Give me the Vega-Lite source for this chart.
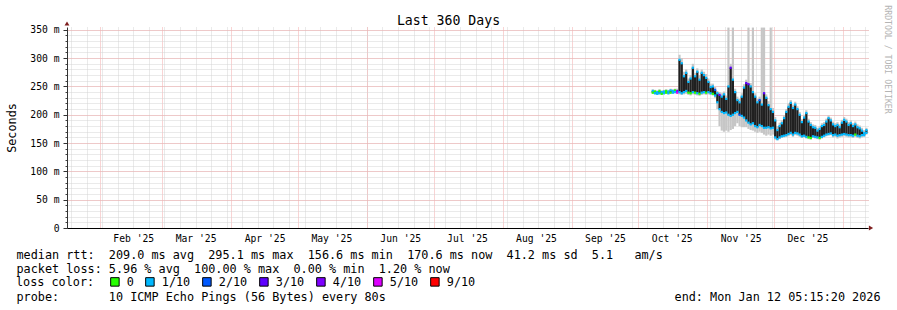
{
  "$schema": "https://vega.github.io/schema/vega-lite/v6.json",
  "width": 801,
  "height": 201,
  "autosize": {"type": "none"},
  "padding": {"left": 67, "top": 27, "right": 29, "bottom": 82},
  "background": "#ffffff",
  "config": {
    "view": {"stroke": null},
    "axis": {"labelFont": "DejaVu Sans Mono", "titleFont": "DejaVu Sans Mono", "titleFontWeight": "normal", "labelColor": "#000000", "titleColor": "#000000", "titleLimit": 2000, "labelLimit": 300}
  },
  "data": {"values": [
    {"t":"2025-10-07T12:00","smin":237,"lo":239,"hi":242,"smax":245,"loss":"1/10","lossLo":"0"},
    {"t":"2025-10-08T12:00","smin":236,"lo":238,"hi":241,"smax":244,"loss":"0","lossLo":"1/10"},
    {"t":"2025-10-09T12:00","smin":235,"lo":237,"hi":240,"smax":243,"loss":"1/10","lossLo":"1/10"},
    {"t":"2025-10-10T12:00","smin":236,"lo":238,"hi":242,"smax":245,"loss":"0","lossLo":"1/10"},
    {"t":"2025-10-11T12:00","smin":235,"lo":237,"hi":240,"smax":243,"loss":"1/10","lossLo":"0"},
    {"t":"2025-10-12T12:00","smin":236,"lo":238,"hi":241,"smax":244,"loss":"1/10","lossLo":"1/10"},
    {"t":"2025-10-13T12:00","smin":237,"lo":239,"hi":242,"smax":245,"loss":"0","lossLo":"0"},
    {"t":"2025-10-14T12:00","smin":236,"lo":238,"hi":241,"smax":244,"loss":"1/10","lossLo":"1/10"},
    {"t":"2025-10-15T12:00","smin":237,"lo":239,"hi":243,"smax":246,"loss":"1/10","lossLo":"0"},
    {"t":"2025-10-16T12:00","smin":237,"lo":239,"hi":242,"smax":245,"loss":"1/10","lossLo":"1/10"},
    {"t":"2025-10-17T12:00","smin":238,"lo":240,"hi":243,"smax":246,"loss":"0","lossLo":"1/10"},
    {"t":"2025-10-18T12:00","smin":237,"lo":239,"hi":242,"smax":246,"loss":"4/10","lossLo":"5/10"},
    {"t":"2025-10-19T12:00","smin":236,"lo":240,"hi":297,"smax":306,"loss":"1/10","lossLo":"1/10"},
    {"t":"2025-10-20T12:00","smin":235,"lo":238,"hi":291,"smax":300,"loss":"1/10","lossLo":"1/10"},
    {"t":"2025-10-21T12:00","smin":236,"lo":240,"hi":268,"smax":276,"loss":"1/10","lossLo":"1/10"},
    {"t":"2025-10-22T12:00","smin":237,"lo":242,"hi":274,"smax":280,"loss":"1/10","lossLo":"1/10"},
    {"t":"2025-10-23T12:00","smin":235,"lo":239,"hi":258,"smax":264,"loss":"1/10","lossLo":"0"},
    {"t":"2025-10-24T12:00","smin":234,"lo":238,"hi":264,"smax":270,"loss":"1/10","lossLo":"0"},
    {"t":"2025-10-25T12:00","smin":236,"lo":240,"hi":283,"smax":290,"loss":"1/10","lossLo":"1/10"},
    {"t":"2025-10-26T12:00","smin":235,"lo":239,"hi":268,"smax":274,"loss":"1/10","lossLo":"0"},
    {"t":"2025-10-27T12:00","smin":234,"lo":238,"hi":276,"smax":282,"loss":"1/10","lossLo":"1/10"},
    {"t":"2025-10-28T12:00","smin":233,"lo":237,"hi":262,"smax":270,"loss":"1/10","lossLo":"0"},
    {"t":"2025-10-29T12:00","smin":235,"lo":239,"hi":274,"smax":280,"loss":"1/10","lossLo":"1/10"},
    {"t":"2025-10-30T12:00","smin":236,"lo":240,"hi":270,"smax":276,"loss":"1/10","lossLo":"1/10"},
    {"t":"2025-10-31T12:00","smin":235,"lo":239,"hi":265,"smax":272,"loss":"1/10","lossLo":"0"},
    {"t":"2025-11-01T12:00","smin":236,"lo":240,"hi":258,"smax":264,"loss":"1/10","lossLo":"1/10"},
    {"t":"2025-11-02T12:00","smin":235,"lo":238,"hi":249,"smax":255,"loss":"1/10","lossLo":"1/10"},
    {"t":"2025-11-03T12:00","smin":234,"lo":237,"hi":250,"smax":255,"loss":"1/10","lossLo":"0"},
    {"t":"2025-11-04T12:00","smin":230,"lo":234,"hi":244,"smax":249,"loss":"2/10","lossLo":"1/10"},
    {"t":"2025-11-05T12:00","smin":210,"lo":222,"hi":238,"smax":242,"loss":"1/10","lossLo":"1/10"},
    {"t":"2025-11-06T12:00","smin":180,"lo":210,"hi":235,"smax":240,"loss":"3/10","lossLo":"1/10"},
    {"t":"2025-11-07T12:00","smin":172,"lo":205,"hi":232,"smax":238,"loss":"1/10","lossLo":"1/10"},
    {"t":"2025-11-08T12:00","smin":170,"lo":203,"hi":236,"smax":241,"loss":"1/10","lossLo":"1/10"},
    {"t":"2025-11-09T12:00","smin":172,"lo":204,"hi":228,"smax":234,"loss":"1/10","lossLo":"1/10"},
    {"t":"2025-11-10T12:00","smin":170,"lo":200,"hi":250,"smax":354,"loss":"1/10","lossLo":"1/10"},
    {"t":"2025-11-11T12:00","smin":173,"lo":198,"hi":283,"smax":290,"loss":"3/10","lossLo":"1/10"},
    {"t":"2025-11-12T12:00","smin":175,"lo":200,"hi":262,"smax":354,"loss":"1/10","lossLo":"1/10"},
    {"t":"2025-11-13T12:00","smin":180,"lo":203,"hi":240,"smax":246,"loss":"1/10","lossLo":"1/10"},
    {"t":"2025-11-14T12:00","smin":185,"lo":205,"hi":226,"smax":232,"loss":"1/10","lossLo":"1/10"},
    {"t":"2025-11-15T12:00","smin":180,"lo":200,"hi":222,"smax":228,"loss":"1/10","lossLo":"2/10"},
    {"t":"2025-11-16T12:00","smin":178,"lo":198,"hi":232,"smax":238,"loss":"1/10","lossLo":"1/10"},
    {"t":"2025-11-17T12:00","smin":178,"lo":195,"hi":248,"smax":254,"loss":"1/10","lossLo":"1/10"},
    {"t":"2025-11-18T12:00","smin":178,"lo":190,"hi":256,"smax":262,"loss":"3/10","lossLo":"1/10"},
    {"t":"2025-11-19T12:00","smin":175,"lo":186,"hi":254,"smax":354,"loss":"3/10","lossLo":"1/10"},
    {"t":"2025-11-20T12:00","smin":173,"lo":183,"hi":250,"smax":256,"loss":"1/10","lossLo":"1/10"},
    {"t":"2025-11-21T12:00","smin":172,"lo":185,"hi":240,"smax":354,"loss":"1/10","lossLo":"1/10"},
    {"t":"2025-11-22T12:00","smin":170,"lo":180,"hi":232,"smax":238,"loss":"1/10","lossLo":"1/10"},
    {"t":"2025-11-23T12:00","smin":168,"lo":178,"hi":222,"smax":228,"loss":"1/10","lossLo":"1/10"},
    {"t":"2025-11-24T12:00","smin":170,"lo":182,"hi":226,"smax":232,"loss":"2/10","lossLo":"1/10"},
    {"t":"2025-11-25T12:00","smin":168,"lo":180,"hi":218,"smax":354,"loss":"1/10","lossLo":"1/10"},
    {"t":"2025-11-26T12:00","smin":165,"lo":177,"hi":238,"smax":354,"loss":"3/10","lossLo":"1/10"},
    {"t":"2025-11-27T12:00","smin":163,"lo":177,"hi":230,"smax":236,"loss":"1/10","lossLo":"1/10"},
    {"t":"2025-11-28T12:00","smin":165,"lo":178,"hi":217,"smax":224,"loss":"1/10","lossLo":"1/10"},
    {"t":"2025-11-29T12:00","smin":163,"lo":176,"hi":210,"smax":354,"loss":"1/10","lossLo":"1/10"},
    {"t":"2025-11-30T12:00","smin":165,"lo":177,"hi":205,"smax":212,"loss":"1/10","lossLo":"1/10"},
    {"t":"2025-12-01T12:00","smin":156,"lo":160,"hi":190,"smax":196,"loss":"1/10","lossLo":"1/10"},
    {"t":"2025-12-02T12:00","smin":155,"lo":157,"hi":173,"smax":180,"loss":"1/10","lossLo":"1/10"},
    {"t":"2025-12-03T12:00","smin":157,"lo":160,"hi":180,"smax":186,"loss":"1/10","lossLo":"1/10"},
    {"t":"2025-12-04T12:00","smin":159,"lo":162,"hi":185,"smax":190,"loss":"1/10","lossLo":"1/10"},
    {"t":"2025-12-05T12:00","smin":160,"lo":163,"hi":194,"smax":199,"loss":"1/10","lossLo":"1/10"},
    {"t":"2025-12-06T12:00","smin":161,"lo":164,"hi":205,"smax":210,"loss":"1/10","lossLo":"1/10"},
    {"t":"2025-12-07T12:00","smin":162,"lo":166,"hi":214,"smax":220,"loss":"1/10","lossLo":"1/10"},
    {"t":"2025-12-08T12:00","smin":164,"lo":168,"hi":221,"smax":226,"loss":"1/10","lossLo":"1/10"},
    {"t":"2025-12-09T12:00","smin":161,"lo":165,"hi":212,"smax":218,"loss":"1/10","lossLo":"1/10"},
    {"t":"2025-12-10T12:00","smin":164,"lo":168,"hi":218,"smax":223,"loss":"1/10","lossLo":"1/10"},
    {"t":"2025-12-11T12:00","smin":163,"lo":167,"hi":210,"smax":215,"loss":"1/10","lossLo":"1/10"},
    {"t":"2025-12-12T12:00","smin":161,"lo":165,"hi":200,"smax":205,"loss":"1/10","lossLo":"1/10"},
    {"t":"2025-12-13T12:00","smin":159,"lo":162,"hi":187,"smax":192,"loss":"1/10","lossLo":"1/10"},
    {"t":"2025-12-14T12:00","smin":160,"lo":163,"hi":195,"smax":200,"loss":"1/10","lossLo":"1/10"},
    {"t":"2025-12-15T12:00","smin":158,"lo":161,"hi":203,"smax":208,"loss":"1/10","lossLo":"1/10"},
    {"t":"2025-12-16T12:00","smin":157,"lo":160,"hi":188,"smax":193,"loss":"1/10","lossLo":"0"},
    {"t":"2025-12-17T12:00","smin":156,"lo":159,"hi":182,"smax":187,"loss":"1/10","lossLo":"0"},
    {"t":"2025-12-18T12:00","smin":159,"lo":162,"hi":178,"smax":183,"loss":"1/10","lossLo":"1/10"},
    {"t":"2025-12-19T12:00","smin":158,"lo":161,"hi":177,"smax":182,"loss":"1/10","lossLo":"1/10"},
    {"t":"2025-12-20T12:00","smin":157,"lo":160,"hi":172,"smax":177,"loss":"1/10","lossLo":"1/10"},
    {"t":"2025-12-21T12:00","smin":156,"lo":159,"hi":175,"smax":180,"loss":"1/10","lossLo":"0"},
    {"t":"2025-12-22T12:00","smin":158,"lo":161,"hi":180,"smax":185,"loss":"1/10","lossLo":"1/10"},
    {"t":"2025-12-23T12:00","smin":160,"lo":163,"hi":182,"smax":187,"loss":"1/10","lossLo":"1/10"},
    {"t":"2025-12-24T12:00","smin":162,"lo":165,"hi":188,"smax":193,"loss":"1/10","lossLo":"1/10"},
    {"t":"2025-12-25T12:00","smin":163,"lo":166,"hi":194,"smax":199,"loss":"1/10","lossLo":"1/10"},
    {"t":"2025-12-26T12:00","smin":164,"lo":167,"hi":190,"smax":195,"loss":"1/10","lossLo":"1/10"},
    {"t":"2025-12-27T12:00","smin":160,"lo":164,"hi":183,"smax":188,"loss":"1/10","lossLo":"1/10"},
    {"t":"2025-12-28T12:00","smin":161,"lo":165,"hi":180,"smax":185,"loss":"1/10","lossLo":"1/10"},
    {"t":"2025-12-29T12:00","smin":158,"lo":163,"hi":182,"smax":187,"loss":"1/10","lossLo":"1/10"},
    {"t":"2025-12-30T12:00","smin":160,"lo":164,"hi":178,"smax":183,"loss":"1/10","lossLo":"1/10"},
    {"t":"2025-12-31T12:00","smin":161,"lo":165,"hi":186,"smax":191,"loss":"1/10","lossLo":"1/10"},
    {"t":"2026-01-01T12:00","smin":162,"lo":166,"hi":191,"smax":196,"loss":"1/10","lossLo":"1/10"},
    {"t":"2026-01-02T12:00","smin":161,"lo":165,"hi":188,"smax":193,"loss":"1/10","lossLo":"1/10"},
    {"t":"2026-01-03T12:00","smin":160,"lo":164,"hi":182,"smax":187,"loss":"1/10","lossLo":"1/10"},
    {"t":"2026-01-04T12:00","smin":160,"lo":164,"hi":185,"smax":190,"loss":"1/10","lossLo":"1/10"},
    {"t":"2026-01-05T12:00","smin":159,"lo":163,"hi":180,"smax":185,"loss":"1/10","lossLo":"1/10"},
    {"t":"2026-01-06T12:00","smin":161,"lo":165,"hi":183,"smax":188,"loss":"1/10","lossLo":"0"},
    {"t":"2026-01-07T12:00","smin":159,"lo":163,"hi":178,"smax":183,"loss":"1/10","lossLo":"1/10"},
    {"t":"2026-01-08T12:00","smin":158,"lo":162,"hi":176,"smax":181,"loss":"1/10","lossLo":"1/10"},
    {"t":"2026-01-09T12:00","smin":160,"lo":164,"hi":172,"smax":177,"loss":"1/10","lossLo":"1/10"},
    {"t":"2026-01-10T12:00","smin":161,"lo":164,"hi":168,"smax":173,"loss":"1/10","lossLo":"1/10"},
    {"t":"2026-01-11T12:00","smin":165,"lo":168,"hi":173,"smax":177,"loss":"1/10","lossLo":"1/10"}
  ]},
  "resolve": {"axis": {"x": "independent", "y": "independent"}},
  "layer": [
    {
      "mark": {"type": "rule", "strokeWidth": 2.2, "color": "#c6c6c6"},
      "encoding": {
        "x": {"field": "t", "type": "temporal",
          "scale": {"domain": [{"year": 2025, "month": 1, "date": 17, "hours": 5, "minutes": 15, "seconds": 20}, {"year": 2026, "month": 1, "date": 12, "hours": 5, "minutes": 15, "seconds": 20}]},
          "axis": {"orient": "bottom", "tickCount": {"interval": "week", "step": 1}, "grid": true, "gridColor": "#d4d4d4", "gridDash": [1, 1], "gridWidth": 1, "ticks": false, "labels": false, "domain": false,
            "title": "median\u00a0rtt:\u00a0\u00a0209.0\u00a0ms\u00a0avg\u00a0\u00a0295.1\u00a0ms\u00a0max\u00a0\u00a0156.6\u00a0ms\u00a0min\u00a0\u00a0170.6\u00a0ms\u00a0now\u00a0\u00a041.2\u00a0ms\u00a0sd\u00a0\u00a05.1\u00a0\u00a0\u00a0am/s",
            "titleX": -51, "titleY": 30, "titleAlign": "left", "titleBaseline": "alphabetic", "titleAngle": 0, "titleFontSize": 11.8}},
        "y": {"field": "smin", "type": "quantitative", "scale": {"domain": [0, 355], "nice": false, "zero": false},
          "axis": {"orient": "left", "values": [0,10,20,30,40,50,60,70,80,90,100,110,120,130,140,150,160,170,180,190,200,210,220,230,240,250,260,270,280,290,300,310,320,330,340,350], "grid": true, "gridColor": "#d4d4d4", "gridDash": [1, 1], "ticks": true, "tickSize": 2, "tickColor": "#444444", "labels": false, "domain": false, "title": null}},
        "y2": {"field": "smax"}
      }
    },
    {
      "mark": {"type": "rule", "strokeWidth": 2.2, "color": "#202020"},
      "encoding": {
        "x": {"field": "t", "type": "temporal",
          "scale": {"domain": [{"year": 2025, "month": 1, "date": 17, "hours": 5, "minutes": 15, "seconds": 20}, {"year": 2026, "month": 1, "date": 12, "hours": 5, "minutes": 15, "seconds": 20}]},
          "axis": {"orient": "bottom", "tickCount": {"interval": "month", "step": 1}, "grid": true, "gridColor": "#f2a8a8", "gridDash": [1, 1], "gridWidth": 1, "ticks": false, "labels": false, "domain": true, "domainColor": "#000000", "domainWidth": 1,
            "title": "packet\u00a0loss:\u00a05.96\u00a0%\u00a0avg\u00a0\u00a0100.00\u00a0%\u00a0max\u00a0\u00a00.00\u00a0%\u00a0min\u00a0\u00a01.20\u00a0%\u00a0now",
            "titleX": -51, "titleY": 44, "titleAlign": "left", "titleBaseline": "alphabetic", "titleAngle": 0, "titleFontSize": 11.8}},
        "y": {"field": "lo", "type": "quantitative", "scale": {"domain": [0, 355], "nice": false, "zero": false},
          "axis": {"orient": "left", "values": [0, 50, 100, 150, 200, 250, 300, 350], "grid": true, "gridColor": "#f2a8a8", "gridDash": [1, 1], "ticks": true, "tickSize": 4, "tickColor": "#333333", "labels": true, "labelFontSize": 9.7, "labelPadding": 4,
            "labelExpr": "datum.value == 0 ? '0\u00a0\u00a0' : datum.value + '\u00a0m'",
            "domain": true, "domainColor": "#333333", "domainWidth": 1,
            "title": "Seconds", "titleX": -56, "titleY": 100.5, "titleAngle": 270, "titleAlign": "center", "titleBaseline": "middle", "titleFontSize": 11.8}},
        "y2": {"field": "hi"}
      }
    },
    {
      "mark": {"type": "point", "shape": "square", "filled": true, "size": 5, "opacity": 1, "strokeWidth": 0},
      "encoding": {
        "x": {"field": "t", "type": "temporal",
          "scale": {"domain": [{"year": 2025, "month": 1, "date": 17, "hours": 5, "minutes": 15, "seconds": 20}, {"year": 2026, "month": 1, "date": 12, "hours": 5, "minutes": 15, "seconds": 20}]},
          "axis": {"orient": "bottom",
            "values": [{"year": 2025, "month": 2, "date": 16}, {"year": 2025, "month": 3, "date": 16}, {"year": 2025, "month": 4, "date": 16}, {"year": 2025, "month": 5, "date": 16}, {"year": 2025, "month": 6, "date": 16}, {"year": 2025, "month": 7, "date": 16}, {"year": 2025, "month": 8, "date": 16}, {"year": 2025, "month": 9, "date": 16}, {"year": 2025, "month": 10, "date": 16}, {"year": 2025, "month": 11, "date": 16}, {"year": 2025, "month": 12, "date": 16}],
            "format": "%b '%y", "formatType": "time", "grid": false, "ticks": false, "domain": false, "labels": true, "labelFontSize": 9.7, "labelPadding": 5, "labelFlush": false, "labelOverlap": false,
            "title": "probe:\u00a0\u00a0\u00a0\u00a0\u00a0\u00a0\u00a010\u00a0ICMP\u00a0Echo\u00a0Pings\u00a0(56\u00a0Bytes)\u00a0every\u00a080s",
            "titleX": -51, "titleY": 72, "titleAlign": "left", "titleBaseline": "alphabetic", "titleAngle": 0, "titleFontSize": 11.8}},
        "y": {"field": "hi", "type": "quantitative", "scale": {"domain": [0, 355], "nice": false, "zero": false},
          "axis": {"orient": "right", "grid": false, "ticks": false, "labels": false, "domain": false,
            "title": "RRDTOOL\u00a0/\u00a0TOBI\u00a0OETIKER", "titleX": 18, "titleY": 32, "titleAngle": 90, "titleAlign": "center", "titleBaseline": "middle", "titleFontSize": 8.2, "titleColor": "#b4b4b4"}},
        "color": {"field": "loss", "type": "nominal",
          "scale": {"domain": ["0", "1/10", "2/10", "3/10", "4/10", "5/10", "9/10"], "range": ["#26ff00", "#00b8ff", "#0059ff", "#5e00ff", "#7e00ff", "#dd00ff", "#ff0000"]},
          "legend": {"orient": "none", "legendX": -51, "legendY": 249, "direction": "horizontal", "padding": 0,
            "title": "loss\u00a0color:", "titleOrient": "left", "titlePadding": 14, "titleFont": "DejaVu Sans Mono", "titleFontSize": 11.8, "titleFontWeight": "normal", "titleColor": "#000000",
            "labelFont": "DejaVu Sans Mono", "labelFontSize": 11.8, "labelColor": "#000000", "labelOffset": 6, "columnPadding": 9, "gridAlign": "none",
            "symbolType": "square", "symbolSize": 72, "symbolStrokeColor": "#000000", "symbolStrokeWidth": 1, "symbolOpacity": 1,
            "encode": {"symbols": {"update": {"stroke": {"value": "#000000"}, "strokeWidth": {"value": 1}}}}}}
      }
    },
    {
      "mark": {"type": "point", "shape": "square", "filled": true, "size": 5, "opacity": 1, "strokeWidth": 0},
      "encoding": {
        "x": {"field": "t", "type": "temporal",
          "scale": {"domain": [{"year": 2025, "month": 1, "date": 17, "hours": 5, "minutes": 15, "seconds": 20}, {"year": 2026, "month": 1, "date": 12, "hours": 5, "minutes": 15, "seconds": 20}]},
          "axis": {"orient": "bottom", "grid": false, "ticks": false, "labels": false, "domain": false,
            "title": "end:\u00a0Mon\u00a0Jan\u00a012\u00a005:15:20\u00a02026", "titleX": 813, "titleY": 72, "titleAlign": "right", "titleBaseline": "alphabetic", "titleAngle": 0, "titleFontSize": 11.8}},
        "y": {"field": "lo", "type": "quantitative", "scale": {"domain": [0, 355], "nice": false, "zero": false}, "axis": null},
        "color": {"field": "lossLo", "type": "nominal", "legend": null}
      }
    },
    {
      "data": {"values": [{"arrow": "y"}]},
      "mark": {"type": "point", "shape": "triangle-up", "filled": true, "size": 24, "color": "#7f1f1f", "opacity": 1, "yOffset": -3.5},
      "encoding": {
        "x": {"datum": {"year": 2025, "month": 1, "date": 17, "hours": 5, "minutes": 15, "seconds": 20}, "type": "temporal",
          "scale": {"domain": [{"year": 2025, "month": 1, "date": 17, "hours": 5, "minutes": 15, "seconds": 20}, {"year": 2026, "month": 1, "date": 12, "hours": 5, "minutes": 15, "seconds": 20}]},
          "axis": {"orient": "top", "grid": false, "ticks": false, "labels": false, "domain": false,
            "title": "Last\u00a0360\u00a0Days", "titleX": 381, "titleY": -3, "titleAlign": "center", "titleBaseline": "alphabetic", "titleAngle": 0, "titleFontSize": 13.2}},
        "y": {"datum": 355, "type": "quantitative", "scale": {"domain": [0, 355], "nice": false, "zero": false}, "axis": null}
      }
    },
    {
      "data": {"values": [{"arrow": "x"}]},
      "mark": {"type": "point", "shape": "triangle-right", "filled": true, "size": 24, "color": "#7f1f1f", "opacity": 1, "xOffset": 3},
      "encoding": {
        "x": {"datum": {"year": 2026, "month": 1, "date": 12, "hours": 5, "minutes": 15, "seconds": 20}, "type": "temporal",
          "scale": {"domain": [{"year": 2025, "month": 1, "date": 17, "hours": 5, "minutes": 15, "seconds": 20}, {"year": 2026, "month": 1, "date": 12, "hours": 5, "minutes": 15, "seconds": 20}]},
          "axis": null},
        "y": {"datum": 0, "type": "quantitative", "scale": {"domain": [0, 355], "nice": false, "zero": false}, "axis": null}
      }
    }
  ]
}
